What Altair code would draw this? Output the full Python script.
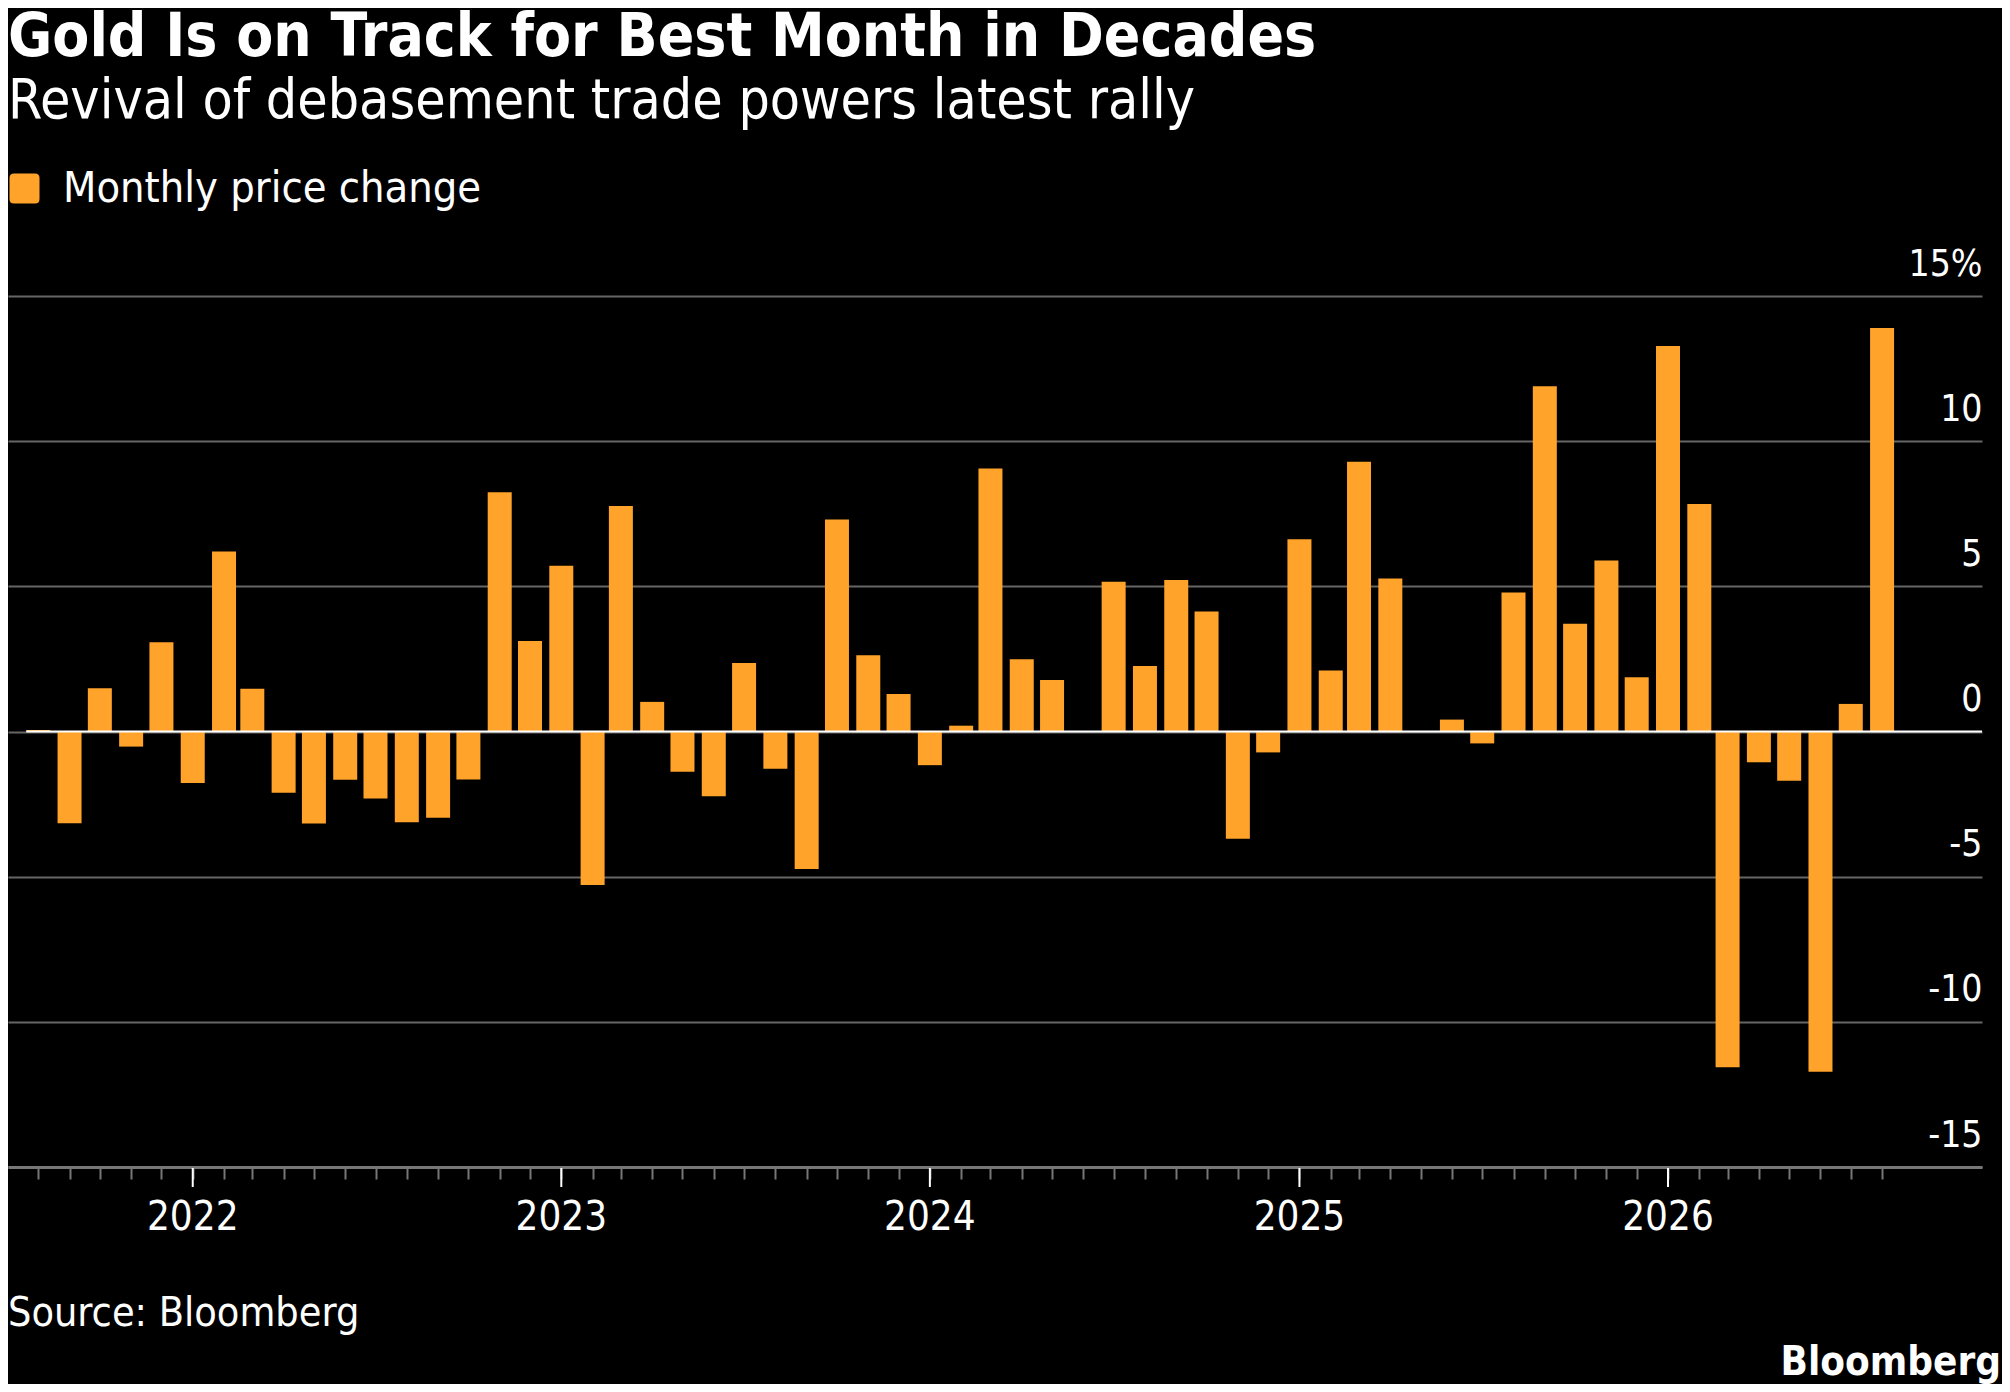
import altair as alt
import pandas as pd

# Monthly gold price change in %, Aug 2021 to Aug 2026
months = pd.date_range("2021-08-01", periods=61, freq="MS").strftime("%Y-%m-%d").tolist()
changes = [
    0.05, -3.16, 1.49, -0.52, 3.07,
    -1.77, 6.20, 1.47, -2.11, -3.17, -1.66, -2.31, -3.13, -2.97, -1.65, 8.24, 3.12,
    5.71, -5.29, 7.77, 1.02, -1.39, -2.23, 2.36, -1.28, -4.74, 7.30, 2.63, 1.29,
    -1.16, 0.20, 9.06, 2.49, 1.77, 0.0, 5.16, 2.26, 5.22, 4.13, -3.69, -0.72,
    6.62, 2.10, 9.29, 5.27, 0.0, 0.41, -0.41, 4.79, 11.89, 3.71, 5.89, 1.87,
    13.28, 7.84, -11.56, -1.06, -1.70, -11.72, 0.95, 13.90,
]
years = ["2022-01-01", "2023-01-01", "2024-01-01", "2025-01-01", "2026-01-01"]
year_labels = ["2022", "2023", "2024", "2025", "2026"]
y_ticks = [-15, -10, -5, 0, 5, 10, 15]
series_name = "Monthly price change"

TITLE = "Gold Is on Track for Best Month in Decades"
SUBTITLE = "Revival of debasement trade powers latest rally"
SOURCE = "Source: Bloomberg"
BRAND = "Bloomberg"

ORANGE = "#FFA32B"
FONT = "DejaVu Sans Condensed"
W, H = 1974, 871
ROUNDED = ("M-0.7,-1L0.7,-1Q1,-1,1,-0.7L1,0.7Q1,1,0.7,1L-0.7,1"
           "Q-1,1,-1,0.7L-1,-0.7Q-1,-1,-0.7,-1Z")

df = pd.DataFrame({"month": months, "change": changes, "series": series_name})
month_ticks = [alt.DateTime(year=d.year, month=d.month, date=1, utc=True)
               for d in pd.to_datetime(months)]

x_enc = alt.X(
    "month:T", title=None,
    scale=alt.Scale(type="utc",
                    domain=[alt.DateTime(year=2021, month=7, date=7, utc=True),
                            alt.DateTime(year=2026, month=11, date=3, utc=True)]),
    axis=alt.Axis(values=month_ticks, grid=False, labels=False,
                  domainColor="#777777", domainWidth=3,
                  tickColor="#777777", tickWidth=2, tickSize=12),
)
y_enc = alt.Y(
    "change:Q", title=None,
    scale=alt.Scale(domain=[-15, 15], nice=False),
    axis=alt.Axis(values=y_ticks, orient="right", domain=False,
                  ticks=False, tickSize=0, grid=True,
                  gridColor="#666666", gridWidth=2,
                  labelExpr="datum.value == 15 ? '15%' : datum.value < 0 ? "
                            "'-' + abs(datum.value) : '' + datum.value",
                  labelAlign="right", labelBaseline="alphabetic",
                  labelPadding=0, labelOffset=-21,
                  labelColor="white", labelFont=FONT, labelFontSize=37),
)

bars = (
    alt.Chart(df)
    .mark_bar(width=24)
    .encode(
        x=x_enc,
        y=y_enc,
        color=alt.Color("series:N", scale=alt.Scale(range=[ORANGE]),
                        legend=alt.Legend(title=None, orient="none", legendX=-5, legendY=-129,
                                          symbolType=ROUNDED, symbolSize=900,
                                          symbolStrokeWidth=0, symbolOpacity=1,
                                          labelColor="white", labelFont=FONT,
                                          labelFontSize=43, labelOffset=17,
                                          labelLimit=0, padding=0)),
    )
)

# white zero line, starting at the first bar
zero = (
    alt.Chart(pd.DataFrame({"month": [months[0]], "change": [0]}))
    .mark_rule(color="white", strokeWidth=2, xOffset=-12)
    .encode(x=x_enc, x2=alt.value(W), y=y_enc)
)

year_df = pd.DataFrame({"month": years, "label": year_labels})

year_ticks = (
    alt.Chart(year_df)
    .mark_rule(color="white", strokeWidth=2)
    .encode(x=x_enc, y=alt.value(H + 1), y2=alt.value(H + 20))
)

year_text = (
    alt.Chart(year_df)
    .mark_text(baseline="alphabetic", color="white", font=FONT, fontSize=40)
    .encode(x=x_enc, y=alt.value(H + 63), text="label:N")
)

source = (
    alt.Chart(pd.DataFrame({"t": [SOURCE]}))
    .mark_text(align="left", baseline="alphabetic", color="white", font=FONT, fontSize=41)
    .encode(x=alt.value(0), y=alt.value(1030), text="t:N")
)

brand = (
    alt.Chart(pd.DataFrame({"t": [BRAND]}))
    .mark_text(align="right", baseline="alphabetic", color="white", font=FONT,
               fontSize=40, fontWeight="bold")
    .encode(x=alt.value(W + 19), y=alt.value(1079), text="t:N")
)

chart = (
    alt.layer(bars, zero, year_ticks, year_text, source, brand)
    .properties(
        width=W, height=H,
        title=alt.Title(TITLE, subtitle=SUBTITLE, anchor="start", dx=5,
                        font=FONT, fontSize=60, fontWeight="bold", color="white",
                        subtitleFont=FONT, subtitleFontSize=55, subtitleColor="white",
                        subtitlePadding=6, offset=37),
        padding={"left": 0, "top": 288, "right": 20, "bottom": 217},
        autosize=alt.AutoSizeParams(type="none"),
        background="black",
    )
    .configure_view(stroke=None)
)

chart.save("out.html", embed_options={"renderer": "svg", "actions": False})
